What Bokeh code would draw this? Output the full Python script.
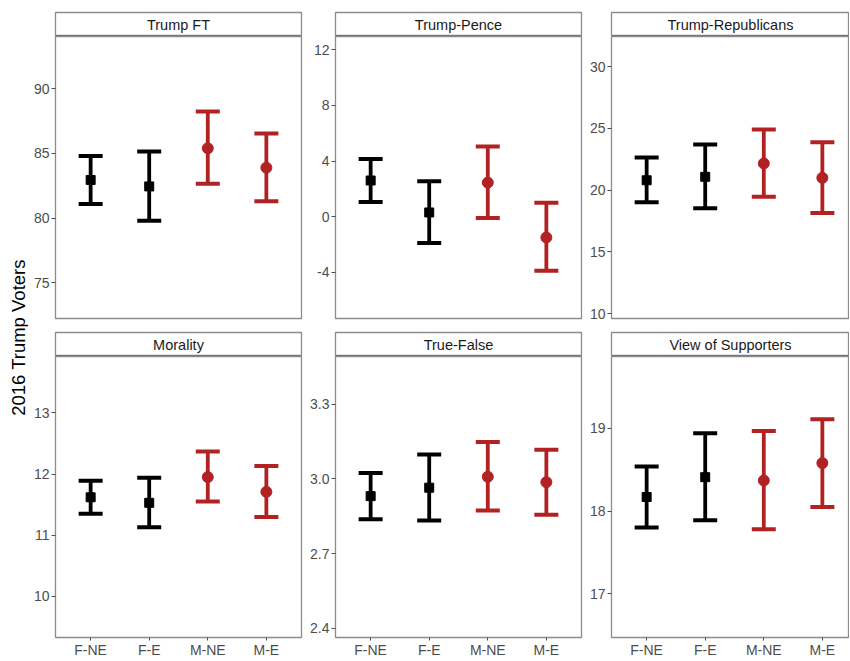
from bokeh.plotting import figure
from bokeh.layouts import row, column
from bokeh.models import ColumnDataSource, FixedTicker, Span, Range1d, PrintfTickFormatter
from bokeh.embed import file_html
from bokeh.resources import INLINE
from bokeh.core.properties import value
import math

# ---------------- data ----------------
groups = ["F-NE", "F-E", "M-NE", "M-E"]
group_colors = ["black", "black", "#B22222", "#B22222"]
group_markers = ["square", "square", "circle", "circle"]
group_sizes = [9, 9, 11, 11]

panel_names = ["Trump FT", "Trump-Pence", "Trump-Republicans",
               "Morality", "True-False", "View of Supporters"]

trump_ft_mean = [82.95, 82.45, 85.4, 83.9]
trump_ft_low = [81.1, 79.8, 82.65, 81.3]
trump_ft_high = [84.8, 85.15, 88.25, 86.55]

trump_pence_mean = [2.6, 0.3, 2.45, -1.5]
trump_pence_low = [1.05, -1.9, -0.1, -3.9]
trump_pence_high = [4.15, 2.55, 5.05, 1.0]

trump_rep_mean = [20.8, 21.08, 22.16, 21.0]
trump_rep_low = [19.03, 18.54, 19.46, 18.16]
trump_rep_high = [22.65, 23.7, 24.9, 23.88]

morality_mean = [11.62, 11.53, 11.95, 11.71]
morality_low = [11.35, 11.13, 11.55, 11.30]
morality_high = [11.89, 11.94, 12.37, 12.13]

true_false_mean = [2.931, 2.965, 3.009, 2.987]
true_false_low = [2.838, 2.833, 2.873, 2.856]
true_false_high = [3.024, 3.099, 3.149, 3.118]

supporters_mean = [18.17, 18.41, 18.37, 18.58]
supporters_low = [17.80, 17.89, 17.78, 18.05]
supporters_high = [18.54, 18.94, 18.97, 19.11]

trump_ft_ticks = [75, 80, 85, 90]
trump_pence_ticks = [-4, 0, 4, 8, 12]
trump_rep_ticks = [10, 15, 20, 25, 30]
morality_ticks = [10, 11, 12, 13]
true_false_ticks = [2.4, 2.7, 3.0, 3.3]
supporters_ticks = [17, 18, 19]

trump_ft_range = (72.24, 94.04)
trump_pence_range = (-7.33, 12.96)
trump_rep_range = (9.62, 32.43)
morality_range = (9.33, 13.92)
true_false_range = (2.362, 3.493)
supporters_range = (16.47, 19.87)

y_title = "2016 Trump Voters"

# ---------------- style ----------------
FONT = "Liberation Sans"
BORDER = "#8c8c8c"
TICK_COL = "#4d4d4d"

positions = list(range(1, len(groups) + 1))

def make_strip(name, width, left, right, top, height):
    s = figure(width=width, height=height, x_range=Range1d(0, 1), y_range=Range1d(0, 1),
               x_axis_type=None, y_axis_type=None,
               min_border_left=left, min_border_right=right,
               min_border_top=top, min_border_bottom=0,
               toolbar_location=None, output_backend="svg")
    s.grid.visible = False
    s.outline_line_color = BORDER
    s.outline_line_width = 1.3
    s.background_fill_color = "white"
    s.border_fill_color = "white"
    s.text(x=[0.5], y=[0.5], text=[name], text_align="center", text_baseline="middle",
           text_font=value(FONT), text_font_size="14.5px", text_color="#1a1a1a")
    s.add_layout(Span(location=0, dimension="width", line_color="#333333", line_width=1.6))
    return s

def make_panel(mean, low, high, ticks, yr, width, height, left, right, bottom,
               show_x, x_end=4.6, fmt="%d"):
    p = figure(width=width, height=height,
               x_range=Range1d(0.4, x_end), y_range=Range1d(*yr),
               x_axis_location="below" if show_x else None,
               min_border_left=left, min_border_right=right,
               min_border_top=0, min_border_bottom=bottom,
               toolbar_location=None, output_backend="svg")
    p.grid.visible = False
    p.outline_line_color = BORDER
    p.outline_line_width = 1.3
    p.border_fill_color = "white"

    src = ColumnDataSource(dict(x=positions, mean=mean, low=low, high=high,
                                color=group_colors, marker=group_markers, size=group_sizes))
    p.segment(x0="x", y0="low", x1="x", y1="high", source=src,
              line_color="color", line_width=3.8)
    p.scatter(x="x", y="high", source=src, marker="dash", size=24,
              line_color="color", line_width=4)
    p.scatter(x="x", y="low", source=src, marker="dash", size=24,
              line_color="color", line_width=4)
    p.scatter(x="x", y="mean", source=src, marker="marker", size="size",
              fill_color="color", line_color="color")

    ya = p.yaxis[0]
    ya.ticker = FixedTicker(ticks=ticks)
    ya.formatter = PrintfTickFormatter(format=fmt)
    ya.axis_line_color = None
    ya.major_tick_out = 4
    ya.major_tick_in = 0
    ya.minor_tick_line_color = None
    ya.major_tick_line_color = TICK_COL
    ya.major_label_standoff = 2
    ya.major_label_text_font = FONT
    ya.major_label_text_font_size = "14px"
    ya.major_label_text_color = TICK_COL

    if show_x:
        xa = p.xaxis[0]
        xa.ticker = FixedTicker(ticks=positions)
        xa.major_label_overrides = {pos: g for pos, g in zip(positions, groups)}
        xa.axis_line_color = None
        xa.major_tick_out = 3
        xa.major_tick_in = 0
        xa.minor_tick_line_color = None
        xa.major_tick_line_color = TICK_COL
        xa.major_label_standoff = 1
        xa.major_label_text_font = FONT
        xa.major_label_text_font_size = "14px"
        xa.major_label_text_color = TICK_COL
    return p

# layout sizes
W0 = 28
W1, L1, R1 = 275, 27, 2
W2, L2, R2 = 280, 32, 2
W3, L3, R3 = 266, 28, 0
x_end3 = 0.4 + 4.2 * (W3 - L3 - R3) / 246.0

H_S1, T_S1 = 36, 12
H_P1, B_P1 = 295, 13
H_S2, T_S2 = 25, 1
H_P2, B_P2 = 304, 19

col1 = column(
    make_strip(panel_names[0], W1, L1, R1, T_S1, H_S1),
    make_panel(trump_ft_mean, trump_ft_low, trump_ft_high, trump_ft_ticks, trump_ft_range,
               W1, H_P1, L1, R1, B_P1, False),
    make_strip(panel_names[3], W1, L1, R1, T_S2, H_S2),
    make_panel(morality_mean, morality_low, morality_high, morality_ticks, morality_range,
               W1, H_P2, L1, R1, B_P2, True),
    spacing=0)
col2 = column(
    make_strip(panel_names[1], W2, L2, R2, T_S1, H_S1),
    make_panel(trump_pence_mean, trump_pence_low, trump_pence_high, trump_pence_ticks,
               trump_pence_range, W2, H_P1, L2, R2, B_P1, False),
    make_strip(panel_names[4], W2, L2, R2, T_S2, H_S2),
    make_panel(true_false_mean, true_false_low, true_false_high, true_false_ticks,
               true_false_range, W2, H_P2, L2, R2, B_P2, True, fmt="%.1f"),
    spacing=0)
col3 = column(
    make_strip(panel_names[2], W3, L3, R3, T_S1, H_S1),
    make_panel(trump_rep_mean, trump_rep_low, trump_rep_high, trump_rep_ticks,
               trump_rep_range, W3, H_P1, L3, R3, B_P1, False, x_end=x_end3),
    make_strip(panel_names[5], W3, L3, R3, T_S2, H_S2),
    make_panel(supporters_mean, supporters_low, supporters_high, supporters_ticks,
               supporters_range, W3, H_P2, L3, R3, B_P2, True, x_end=x_end3),
    spacing=0)

TOTAL_H = H_S1 + H_P1 + H_S2 + H_P2
tf = figure(width=W0, height=TOTAL_H, x_range=Range1d(0, W0), y_range=Range1d(0, TOTAL_H),
            x_axis_type=None, y_axis_type=None,
            min_border_left=0, min_border_right=0, min_border_top=0, min_border_bottom=0,
            toolbar_location=None, output_backend="svg")
tf.grid.visible = False
tf.outline_line_color = None
tf.text(x=[17.5], y=[TOTAL_H - 337], text=[y_title], angle=math.pi / 2,
        text_align="center", text_baseline="middle",
        text_font=value(FONT), text_font_size="18.5px", text_color="black")

layout = row(tf, col1, col2, col3, spacing=0)

open("out.html", "w").write(file_html(layout, INLINE))
